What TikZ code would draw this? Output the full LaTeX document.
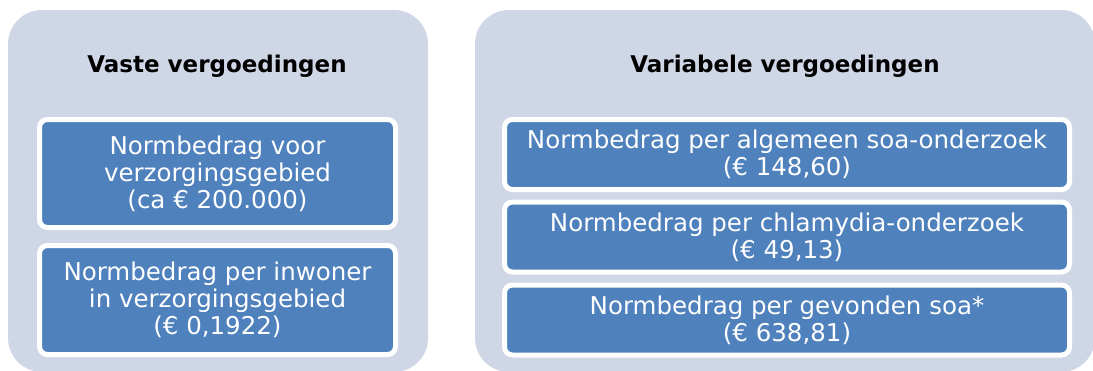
\documentclass[tikz,border=0pt]{standalone}
\usepackage{fontspec}
\setmainfont{DejaVu Sans}
\definecolor{panelgray}{HTML}{CFD6E6}
\definecolor{boxblue}{HTML}{4F81BD}

\begin{document}
\begin{tikzpicture}[x=1pt, y=-1pt,
        panel/.style={fill=panelgray, rounded corners=34pt, inner sep=0pt},
        head/.style={anchor=base, font=\fontsize{23}{27}\selectfont\bfseries},
        item/.style={fill=boxblue, draw=white, line width=5pt, rounded corners=8pt,
                     text=white, align=center, inner sep=0pt,
                     font=\fontsize{24.5}{27}\selectfont}]
    \useasboundingbox (0,0) rectangle (1093,370);

    \node[panel, minimum width=420pt, minimum height=362pt] (fixed) at (218,191) {};
    \node[panel, minimum width=620pt, minimum height=362pt] (variable) at (785,191) {};

    \node[head] (fixedhead) at (217,72) {Vaste vergoedingen};
    \node[head] (varhead) at (785,72) {Variabele vergoedingen};

    \node[item, minimum width=356pt, minimum height=108pt] (area) at (217.5,173.5)
        {Normbedrag voor\\verzorgingsgebied\\(ca € 200.000)};
    \node[item, minimum width=356pt, minimum height=109pt] (resident) at (217.5,300)
        {Normbedrag per inwoner\\in verzorgingsgebied\\(€ 0,1922)};

    \foreach \name/\y/\txt in {general/154.5/{Normbedrag per algemeen soa-onderzoek\\(€ 148,60)},
                               chlamydia/237/{Normbedrag per chlamydia-onderzoek\\(€ 49,13)},
                               found/320/{Normbedrag per gevonden soa*\\(€ 638,81)}}
        \node[item, minimum width=565pt, minimum height=70pt] (\name) at (787,\y) {\txt};
\end{tikzpicture}
\end{document}
